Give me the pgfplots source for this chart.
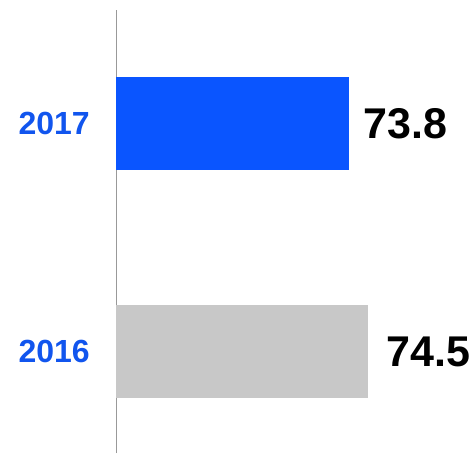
\documentclass[border=0pt]{standalone}
\usepackage{pgfplots}
\pgfplotsset{compat=1.18}
\usepackage{fontspec}
\setmainfont{Liberation Sans}
\definecolor{barblue}{RGB}{10,85,255}
\definecolor{lblblue}{RGB}{17,85,238}
\definecolor{bargray}{RGB}{200,200,200}
\begin{document}
\begin{tikzpicture}
\useasboundingbox (-116pt,0pt) rectangle (358pt,453pt);
\begin{axis}[
  at={(0pt,0pt)}, anchor=south west,
  scale only axis,
  width=358pt, height=443pt,
  xmin=65.22, xmax=78.40,
  ymin=-0.445, ymax=1.498,
  xbar, bar width=93pt,
  axis x line=none,
  axis y line=left,
  y axis line style={-, draw=gray!80, line width=0.8pt},
  ytick={0,1}, yticklabels={2016,2017},
  major tick length=0pt,
  yticklabel style={font=\fontsize{32}{32}\selectfont\bfseries, text=lblblue, inner sep=0pt, xshift=-26pt},
  clip=false,
  point meta=explicit symbolic,
  nodes near coords,
]
\addplot[draw=none, fill=barblue, bar shift=0pt,
  every node near coord/.append style={font=\fontsize{43}{43}\selectfont\bfseries, text=black, anchor=west, inner sep=0pt, xshift=14pt}]
  coordinates {(73.8,1) [73.8]};
\addplot[draw=none, fill=bargray, bar shift=0pt,
  every node near coord/.append style={font=\fontsize{43}{43}\selectfont\bfseries, text=black, anchor=west, inner sep=0pt, xshift=18pt}]
  coordinates {(74.5,0) [74.5]};
\end{axis}
\end{tikzpicture}
\end{document}
